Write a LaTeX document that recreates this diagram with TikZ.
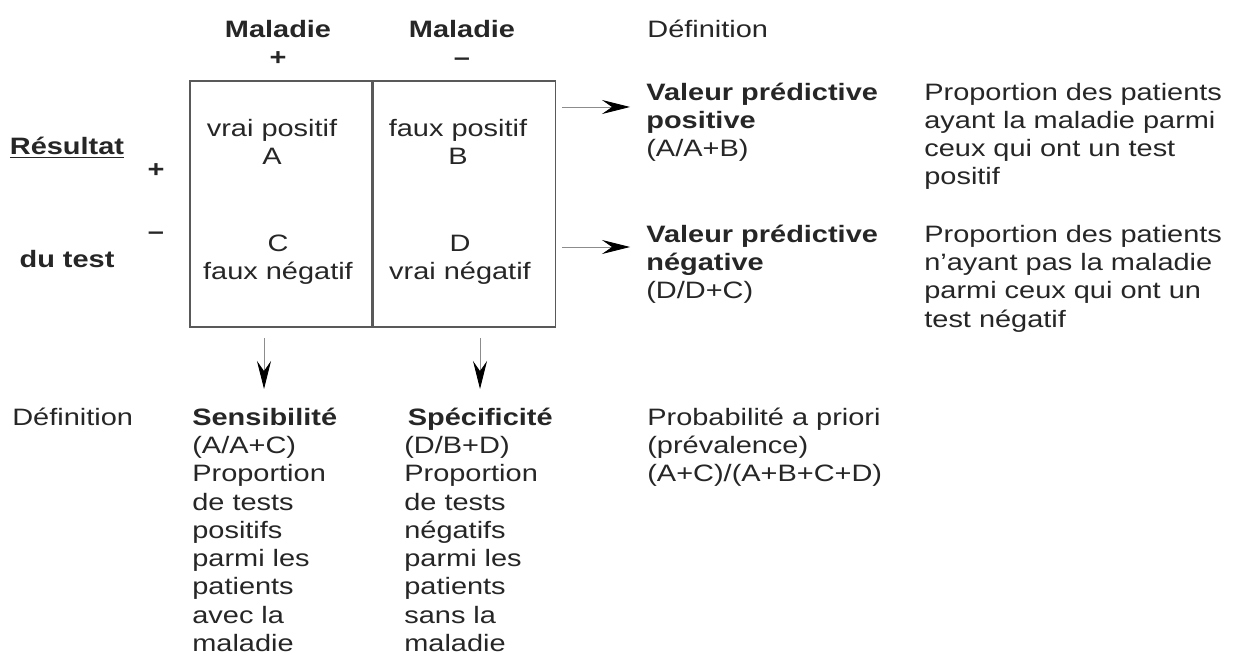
\documentclass[tikz,border=0pt]{standalone}
\usepackage{fontspec}
\setmainfont{Liberation Sans}[FakeStretch=1.22]
\usepackage{tikz}
\usetikzlibrary{positioning,arrows.meta}

\begin{document}
\begin{tikzpicture}[
	x=0.02cm, y=-0.02cm,
	every node/.style={font=\fontsize{13.5}{16.1}\selectfont, text=black!85, inner sep=0pt},
	ar/.style={-{Stealth[length=5.6mm,width=2.8mm,inset=2mm,color=black]}, draw=black!45, line width=0.5pt},
	cell/.style={
	  draw=black!65,
	  line width=0.9pt,
	  minimum width=3.64cm,
	  minimum height=4.92cm
	  },
	txt/.style={anchor=base west, align=left},
	ctxt/.style={anchor=base, align=center},
	btxt/.style={ctxt, font=\fontsize{13.5}{16.1}\bfseries}
	]
		\useasboundingbox (0,0) rectangle (1233,658);

		% tableau 2x2 (base = derniere ligne)
		\node[cell] (pos) at (281,204) {};
		\node[cell,right=0pt of pos] (neg) {};

		\node[btxt] (hpos) at (278,66) {Maladie\\+};
		\node[btxt] (hneg) at (462,66) {Maladie\\–};
		\node[txt] (defhaut) at (647,38) {Définition};

		\node[btxt] (res) at (67,155) {\underline{Résultat}};
		\node[btxt] (dutest) at (67,268) {du test};
		\node[btxt] (plus) at (156,178) {+};
		\node[btxt] (moins) at (156,240) {–};

		\node[ctxt] (vp) at (272,165) {vrai positif\\A};
		\node[ctxt] (fp) at (458,165) {faux positif\\B};
		\node[ctxt] (fn) at (278,280) {C\\faux négatif};
		\node[ctxt] (vn) at (460,280) {D\\vrai négatif};

		% valeurs predictives
		\node[txt] (vpp) at (646,156.6) {\textbf{Valeur prédictive}\\\textbf{positive}\\(A/A+B)};
		\node[txt] (vpn) at (646,298.6) {\textbf{Valeur prédictive}\\\textbf{négative}\\(D/D+C)};
		\node[txt] (dpp) at (924,185) {Proportion des patients\\ayant la maladie parmi\\ceux qui ont un test\\positif};
		\node[txt] (dpn) at (924,327) {Proportion des patients\\n’ayant pas la maladie\\parmi ceux qui ont un\\test négatif};

		\coordinate (vpp-from) at (562,107);
		\coordinate (vpp-to) at (630,107);
		\coordinate (vpn-from) at (562,247);
		\coordinate (vpn-to) at (630,247);
		\draw[ar] (vpp-from) -- (vpp-to);
		\draw[ar] (vpn-from) -- (vpn-to);

		% sensibilite, specificite
		\node[txt] (defbas) at (12,425) {Définition};
		\node[txt] (sens) at (192,651.5) {\textbf{Sensibilité}\\(A/A+C)\\Proportion\\de tests\\positifs\\parmi les\\patients\\avec la\\maladie};
		\node[txt] (spec) at (404,651.5) {\hspace*{2pt}\textbf{Spécificité}\\(D/B+D)\\Proportion\\de tests\\négatifs\\parmi les\\patients\\sans la\\maladie};
		\node[txt] (prev) at (647,481.6) {Probabilité a priori\\(prévalence)\\(A+C)/(A+B+C+D)};

		\coordinate (sens-from) at (264,338);
		\coordinate (sens-to) at (264,389);
		\coordinate (spec-from) at (480,338);
		\coordinate (spec-to) at (480,389);
		\draw[ar] (sens-from) -- (sens-to);
		\draw[ar] (spec-from) -- (spec-to);
	\end{tikzpicture}
\end{document}
